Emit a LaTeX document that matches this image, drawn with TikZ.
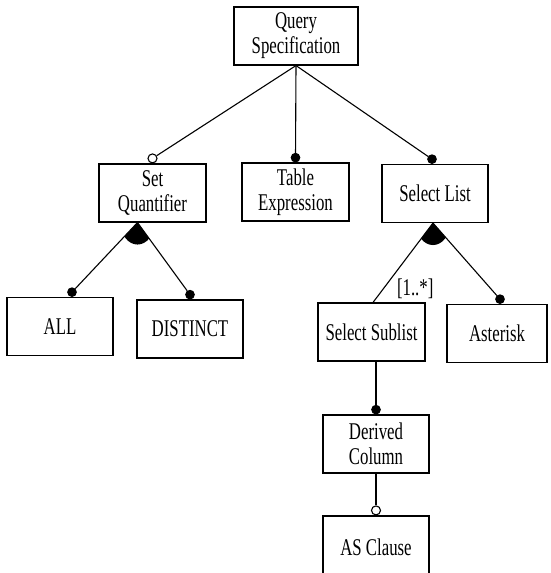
\documentclass[tikz,border=0pt]{standalone}
\usepackage{fontspec}
\setmainfont{Liberation Serif}[FakeStretch=0.70]
\usetikzlibrary{positioning}

\tikzset{
  feature/.style={draw, rectangle, minimum width=106pt, minimum height=58pt, align=center, inner sep=2pt, font=\fontsize{24}{25}\selectfont},
  mand/.style={draw, circle, fill=black, inner sep=0pt, minimum size=8.5pt},
  opt/.style={draw, circle, fill=white, inner sep=0pt, minimum size=9pt},
}

\begin{document}
\begin{tikzpicture}[x=1pt, y=-1pt, line width=1.1pt]
\useasboundingbox (0,0) rectangle (550,573);

% features
\node[feature, minimum width=124pt] (qs) at (296,36) {Query\\Specification};
\node[feature, minimum width=107pt] (setq) at (152.5,193) {Set\\Quantifier};
\node[feature, minimum width=107pt] (tabexp) at (295.5,192) {Table\\Expression};
\node[feature] (sellist) at (435,193.5) {Select List};
\node[feature] (all) at (60,326.5) {ALL};
\node[feature] (distinct) at (190,329) {DISTINCT};
\node[feature, minimum width=107pt] (sublist) at (371.5,332) {Select Sublist};
\node[feature, minimum width=100pt] (asterisk) at (497,333.5) {Asterisk};
\node[feature] (derived) at (376,444) {Derived\\Column};
\node[feature, minimum height=62pt] (asclause) at (376,547) {AS Clause};

% mandatory and optional markers
\node[opt, anchor=south] (setq-m) at (setq.north) {};
\node[mand, anchor=south] (tabexp-m) at (tabexp.north) {};
\node[mand, anchor=south] (sellist-m) at ([xshift=-3pt]sellist.north) {};
\node[mand, anchor=south] (all-m) at ([xshift=12pt]all.north) {};
\node[mand, anchor=south] (distinct-m) at (distinct.north) {};
\node[mand, anchor=south] (asterisk-m) at ([xshift=3pt]asterisk.north) {};
\node[mand, anchor=south] (derived-m) at (derived.north) {};
\node[opt, anchor=south] (asclause-m) at (asclause.north) {};

% group points
\coordinate (setq-fan) at ([xshift=-15pt]setq.south);
\coordinate (sellist-fan) at ([xshift=-2pt]sellist.south);

% connectors
\draw (qs.south) -- (setq-m);
\draw (qs.south) -- (tabexp-m);
\draw (qs.south) -- (sellist-m);
\draw (setq-fan) -- (all-m);
\draw (setq-fan) -- (distinct-m);
\draw (sellist-fan) -- ([xshift=1.5pt]sublist.north);
\draw (sellist-fan) -- (asterisk-m);
\draw (sublist.south -| derived-m) -- (derived-m);
\draw (derived.south) -- (asclause-m);

% or-groups
\begin{scope}
\clip (setq-fan) -- (all-m.center) -- (distinct-m.center) -- cycle;
\fill (setq-fan) ellipse [x radius=17pt, y radius=22pt];
\end{scope}
\begin{scope}
\clip (sellist-fan) -- ([xshift=1.5pt]sublist.north) -- (asterisk-m.center) -- cycle;
\fill (sellist-fan) ellipse [x radius=17pt, y radius=22pt];
\end{scope}

% cardinality
\node[anchor=south west, inner sep=0pt, font=\fontsize{24}{25}\selectfont] (mult) at ([xshift=25pt, yshift=3pt]sublist.north) {[1..*]};

\end{tikzpicture}
\end{document}
